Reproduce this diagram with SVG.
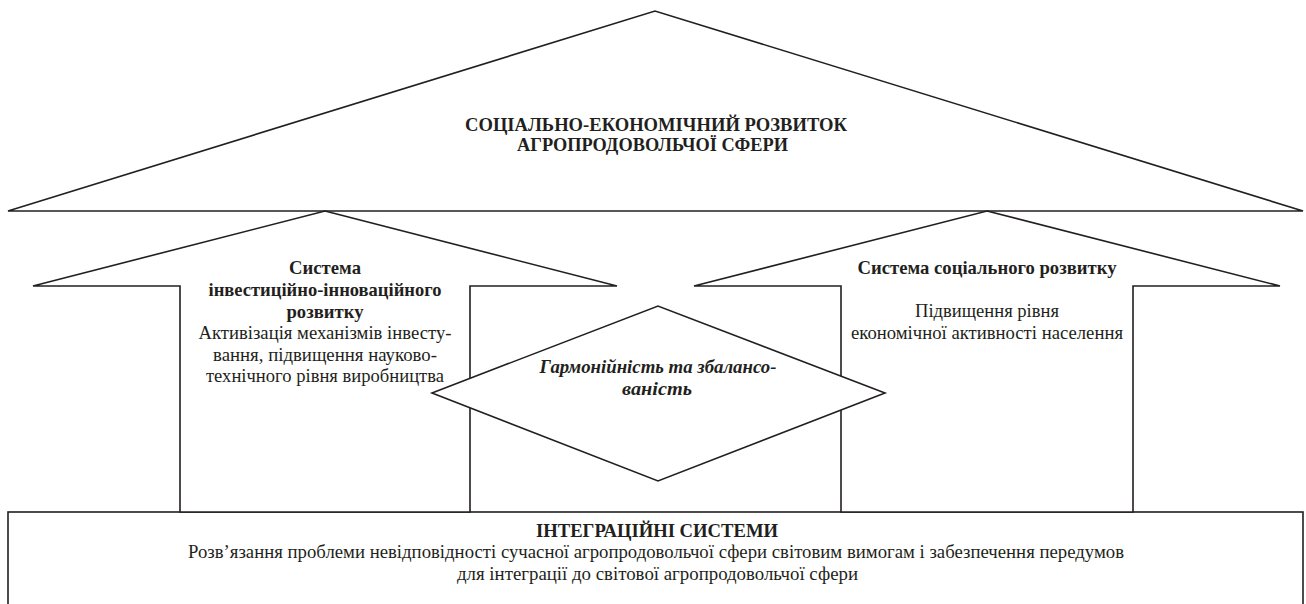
<svg xmlns="http://www.w3.org/2000/svg" width="1306" height="604" viewBox="0 0 1306 604">
<style>
.shape{fill:#fff;stroke:#231f20;stroke-width:1.6;stroke-linejoin:miter}
.t{font-family:"Liberation Serif","Times New Roman",serif;font-size:19.5px;fill:#231f20;text-anchor:middle}
.b{font-weight:bold}
.bi{font-weight:bold;font-style:italic}
</style>
<rect width="1306" height="604" fill="#fff"/>
<g id="roof">
<polygon class="shape" points="8,211 655,11 1303,211"/>
<text class="t b" x="656" y="131" textLength="382" lengthAdjust="spacingAndGlyphs">СОЦІАЛЬНО-ЕКОНОМІЧНИЙ РОЗВИТОК</text>
<text class="t b" x="652.5" y="151" textLength="271" lengthAdjust="spacingAndGlyphs">АГРОПРОДОВОЛЬЧОЇ СФЕРИ</text>
</g>
<g id="integration">
<rect class="shape" x="8" y="512" width="1295" height="120"/>
<text class="t b" x="657" y="537" textLength="242" lengthAdjust="spacingAndGlyphs">ІНТЕГРАЦІЙНІ СИСТЕМИ</text>
<text class="t" x="656" y="558" textLength="936" lengthAdjust="spacingAndGlyphs">Розв’язання проблеми невідповідності сучасної агропродовольчої сфери світовим вимогам і забезпечення передумов</text>
<text class="t" x="657.5" y="580" textLength="401" lengthAdjust="spacingAndGlyphs">для інтеграції до світової агропродовольчої сфери</text>
</g>
<g id="invest-arrow">
<polygon class="shape" points="325,211 617,286 470,286 470,512 180,512 180,286 33,286"/>
<text class="t b" x="325" y="274" textLength="72" lengthAdjust="spacingAndGlyphs">Система</text>
<text class="t b" x="325" y="296" textLength="233" lengthAdjust="spacingAndGlyphs">інвестиційно-інноваційного</text>
<text class="t b" x="325" y="318" textLength="77" lengthAdjust="spacingAndGlyphs">розвитку</text>
<text class="t" x="325" y="339" textLength="253" lengthAdjust="spacingAndGlyphs">Активізація механізмів інвесту-</text>
<text class="t" x="325" y="361" textLength="224" lengthAdjust="spacingAndGlyphs">вання, підвищення науково-</text>
<text class="t" x="325" y="382" textLength="238" lengthAdjust="spacingAndGlyphs">технічного рівня виробництва</text>
</g>
<g id="social-arrow">
<polygon class="shape" points="987,211 1280,286 1133,286 1133,512 841,512 841,286 694,286"/>
<text class="t b" x="987" y="274" textLength="259" lengthAdjust="spacingAndGlyphs">Система соціального розвитку</text>
<text class="t" x="987" y="317" textLength="144" lengthAdjust="spacingAndGlyphs">Підвищення рівня</text>
<text class="t" x="987" y="339" textLength="272" lengthAdjust="spacingAndGlyphs">економічної активності населення</text>
</g>
<g id="harmony">
<polygon class="shape" points="432,393 658,306 885,393 658,481"/>
<text class="t bi" x="658" y="373" textLength="237" lengthAdjust="spacingAndGlyphs">Гармонійність та збалансо-</text>
<text class="t bi" x="657" y="395" textLength="70" lengthAdjust="spacingAndGlyphs">ваність</text>
</g>
<g id="connectors"/>
</svg>
